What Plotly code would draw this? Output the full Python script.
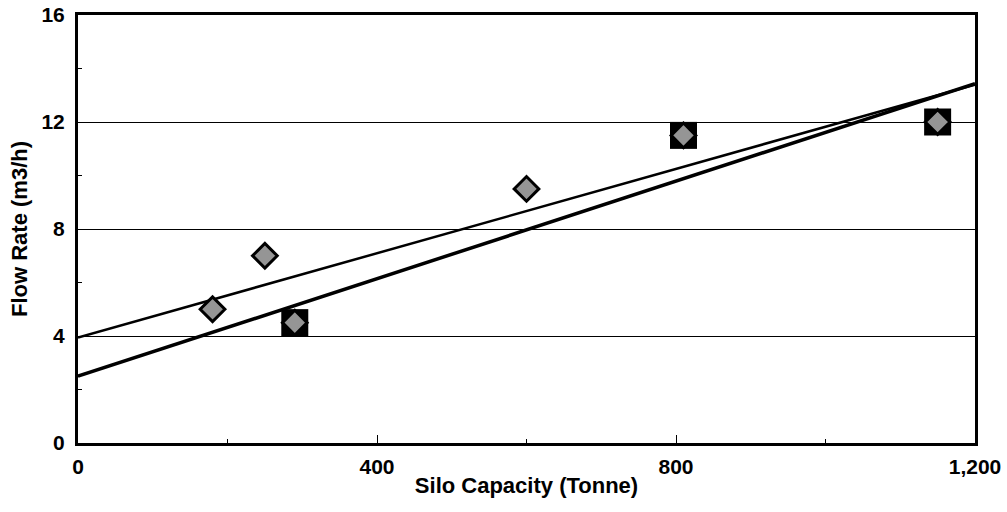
import numpy as np
import plotly.graph_objects as go

# Silo capacity (tonne) vs flow rate (m3/h)
capacity_all = [180, 250, 290, 600, 810, 1150]
flow_all = [5, 7, 4.5, 9.5, 11.5, 12]

# subset highlighted with square markers
capacity_sq = [290, 810, 1150]
flow_sq = [4.5, 11.5, 12]

x_range = [0, 1200]
y_range = [0, 16]
x_ticks = [0, 400, 800, 1200]
x_ticklabels = ["0", "400", "800", "1,200"]
y_ticks = [0, 4, 8, 12, 16]

# least-squares fits for both groups
fit_all = np.polyfit(capacity_all, flow_all, 1)
fit_sq = np.polyfit(capacity_sq, flow_sq, 1)
xs = np.array(x_range, dtype=float)

fig = go.Figure()

fig.add_trace(go.Scatter(
    x=xs, y=np.polyval(fit_all, xs), mode="lines",
    line=dict(color="black", width=2.5), hoverinfo="skip"))
fig.add_trace(go.Scatter(
    x=xs, y=np.polyval(fit_sq, xs), mode="lines",
    line=dict(color="black", width=3.5), hoverinfo="skip"))

fig.add_trace(go.Scatter(
    x=capacity_sq, y=flow_sq, mode="markers",
    marker=dict(symbol="square", size=27, color="black",
                line=dict(color="black", width=0))))
fig.add_trace(go.Scatter(
    x=capacity_all, y=flow_all, mode="markers",
    marker=dict(symbol="diamond", size=19, color="#959595",
                line=dict(color="black", width=3))))

font_family = "Liberation Sans, Arial, sans-serif"
tick_font = dict(family=font_family, size=21, color="black", weight="bold")
title_font = dict(family=font_family, size=22, color="black", weight="bold")

fig.update_layout(
    width=1007, height=512,
    margin=dict(l=78, r=32, t=15, b=69),
    paper_bgcolor="white", plot_bgcolor="white",
    showlegend=False,
    font=dict(family=font_family, color="black", size=21),
)

fig.update_xaxes(
    range=x_range, tickvals=x_ticks, ticktext=x_ticklabels,
    automargin=False,
    showgrid=False, zeroline=False,
    showline=True, linecolor="black", linewidth=3, mirror=True,
    ticks="inside", ticklen=8, tickwidth=1, tickcolor="black",
    minor=dict(dtick=200, ticks="inside", ticklen=4, tickwidth=1, tickcolor="black"),
    tickfont=tick_font, ticklabelstandoff=3,
    title=dict(text="Silo Capacity (Tonne)", standoff=1, font=title_font),
)
fig.update_yaxes(
    range=y_range, tickvals=y_ticks,
    automargin=False,
    showgrid=True, gridcolor="black", gridwidth=1, zeroline=False,
    showline=True, linecolor="black", linewidth=3, mirror=True,
    ticks="inside", ticklen=5, tickwidth=1, tickcolor="black",
    minor=dict(dtick=2, ticks="inside", ticklen=4, tickwidth=1, tickcolor="black"),
    tickfont=tick_font, ticklabelstandoff=6,
    title=dict(text="Flow Rate (m3/h)", standoff=8, font=title_font),
)

fig.write_html("out.html")
